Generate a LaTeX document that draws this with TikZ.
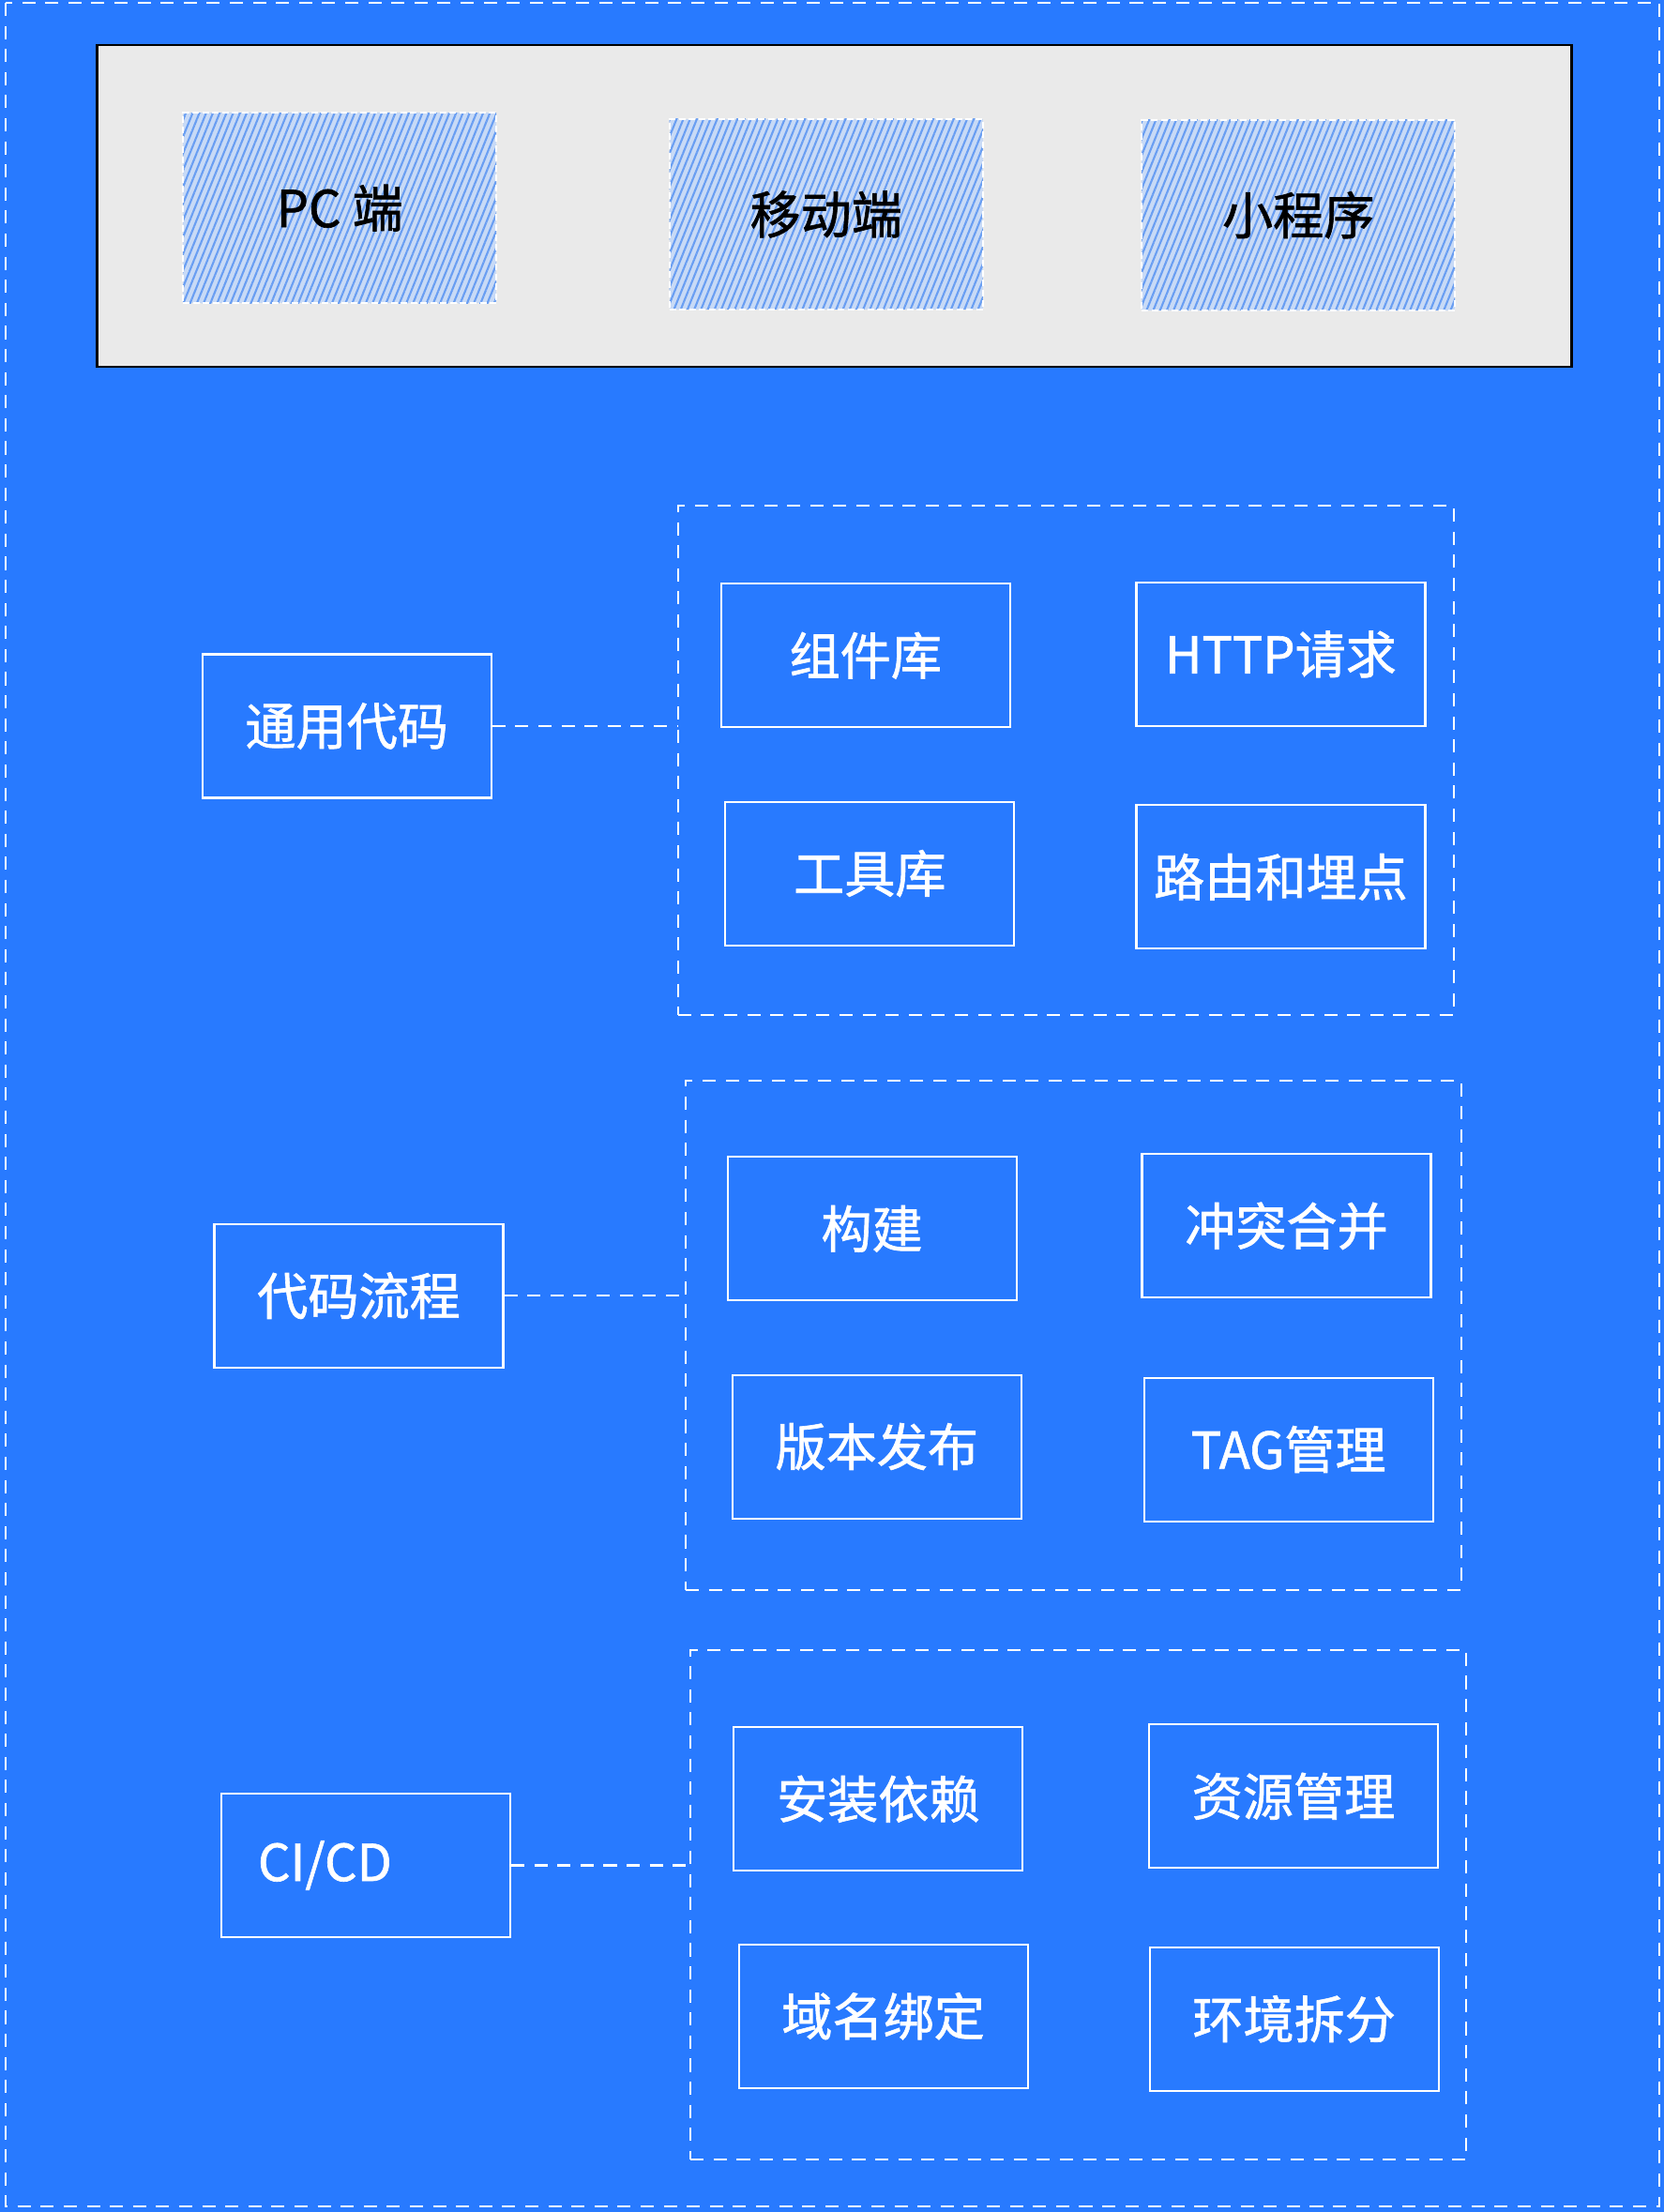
\documentclass[tikz,border=0pt]{standalone}
\usepackage{fontspec}
\setmainfont{Noto Sans CJK SC}[FakeBold=1.2]
\usepackage{tikz}
\usetikzlibrary{patterns.meta}
\definecolor{bgblue}{RGB}{40,122,255}
\definecolor{panelgray}{RGB}{234,234,234}
\definecolor{hatchblue}{RGB}{105,158,242}
\definecolor{hatchfill}{RGB}{200,218,246}
\tikzset{
  item/.style={draw=white, line width=0.6pt, text=white, minimum width=3.08cm, minimum height=1.53cm, font=\fontsize{15.4}{18}\selectfont},
  group/.style={draw=white, line width=0.6pt, dash pattern=on 4pt off 3pt, minimum width=8.27cm, minimum height=5.43cm},
  link/.style={draw=white, line width=0.6pt, dash pattern=on 4pt off 3pt},
  client/.style={draw=white, line width=0.5pt, dash pattern=on 2pt off 1pt, preaction={fill=hatchfill}, pattern={Lines[angle=68,distance=1.9pt,line width=0.6pt]}, pattern color=hatchblue, minimum width=3.34cm, minimum height=2.03cm, text=black, font=\fontsize{15.4}{18}\selectfont},
}

\begin{document}
\begin{tikzpicture}[x=0.01503cm, y=-0.01503cm]
  \fill[bgblue] (0,0) rectangle (1180.3,1568.9);
  \useasboundingbox (0,0) rectangle (1180.3,1568.9);
  \draw[link] (4,2) rectangle (1177,1565);

  % clients
  \node[draw=black, line width=0.8pt, fill=panelgray, minimum width=15.72cm, minimum height=3.43cm] (clients) at (592,146) {};
  \node[client] (pc) at (241,147.5) {PC 端};
  \node[client] (mobile) at (586,152) {移动端};
  \node[client] (mini) at (921,152.5) {小程序};

  % common code
  \node[group] (grpA) at (756,539.5) {};
  \node[item] (lib) at (614,465) {组件库};
  \node[item] (http) at (908.5,464) {HTTP请求};
  \node[item] (tools) at (617,619.5) {工具库};
  \node[item] (route) at (908.5,622) {路由和埋点};
  \node[item] (common) at (246,515) {通用代码};
  \draw[link] (common.east) -- (common.east -| grpA.west);

  % code flow
  \node[group] (grpB) at (761.5,947) {};
  \node[item] (build) at (618.5,871.5) {构建};
  \node[item] (merge) at (912.5,869.5) {冲突合并};
  \node[item] (release) at (622,1026) {版本发布};
  \node[item] (tag) at (914,1028) {TAG管理};
  \node[item] (flow) at (254.5,919) {代码流程};
  \draw[link] (flow.east) -- (flow.east -| grpB.west);

  % ci/cd
  \node[group] (grpC) at (765,1351) {};
  \node[item] (install) at (623,1276) {安装依赖};
  \node[item] (assets) at (917.5,1274) {资源管理};
  \node[item] (domain) at (626.5,1430) {域名绑定};
  \node[item] (envs) at (918,1432) {环境拆分};
  \node[item, inner xsep=0.39cm, text width=2.3cm, align=left] (cicd) at (259.5,1323) {CI/CD};
  \draw[link] (cicd.east) -- (cicd.east -| grpC.west);
\end{tikzpicture}
\end{document}
